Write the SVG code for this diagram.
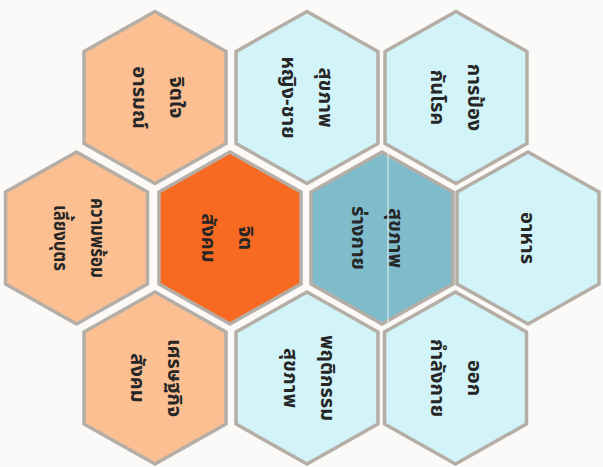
<svg xmlns="http://www.w3.org/2000/svg" width="603" height="467" viewBox="0 0 603 467">
<style>
.hex{stroke:#b4aea6;stroke-width:3.5;stroke-linejoin:miter}
.peach{fill:#fbbf92}
.orange{fill:#f86a22}
.sky{fill:#d2f3f7}
.teal{fill:#7fbccb}
.t{font-family:"Noto Sans Thai","Noto Sans Thai Looped","Noto Sans","DejaVu Sans",sans-serif;font-size:20px;font-weight:bold;fill:#262626;text-anchor:middle}
</style>
<defs>
<polygon id="h" points="0,-86 71,-46 71,46 0,86 -71,46 -71,-46"/>
</defs>
<rect width="603" height="467" fill="#fbfaf9"/>
<g id="n-jitjai" transform="translate(155,97.5)">
<use href="#h" class="hex peach"/>
<g transform="translate(3,0) rotate(90)"><text class="t" x="0" y="-12">จิตใจ</text><text class="t" x="0" y="25">อารมณ์</text></g>
</g>
<g id="n-sukhaphap-ying-chai" transform="translate(307,97.5)">
<use href="#h" class="hex sky"/>
<g transform="translate(0,0) rotate(90)"><text class="t" x="0" y="-12">สุขภาพ</text><text class="t" x="0" y="25">หญิง-ชาย</text></g>
</g>
<g id="n-kanpongkan" transform="translate(456,97.5)">
<use href="#h" class="hex sky"/>
<g transform="translate(0,0) rotate(90)"><text class="t" x="0" y="-12">การป้อง</text><text class="t" x="0" y="25">กันโรค</text></g>
</g>
<g id="n-khwamphrom" transform="translate(76.5,238)">
<use href="#h" class="hex peach"/>
<g transform="translate(2,0) rotate(90)"><text class="t" x="0" y="-12" textLength="80" lengthAdjust="spacingAndGlyphs">ความพร้อม</text><text class="t" x="0" y="25" textLength="66" lengthAdjust="spacingAndGlyphs">เลี้ยงบุตร</text></g>
</g>
<g id="n-jitsangkhom" transform="translate(230,238)">
<use href="#h" class="hex orange"/>
<g transform="translate(-3,0) rotate(90)"><text class="t" x="0" y="-12">จิต</text><text class="t" x="0" y="25">สังคม</text></g>
</g>
<g id="n-sukhaphap-rangkai" transform="translate(382,238)">
<use href="#h" class="hex teal"/>
<g transform="translate(-5,0) rotate(90)"><text class="t" x="0" y="-12">สุขภาพ</text><text class="t" x="0" y="25">ร่างกาย</text></g>
<line x1="6" y1="-86" x2="6" y2="88" stroke="#e6f4f7" stroke-width="1.2" opacity="0.8"/>
</g>
<g id="n-ahan" transform="translate(528,238)">
<use href="#h" class="hex sky"/>
<g transform="translate(0,0) rotate(90)"><text class="t" x="0" y="7">อาหาร</text></g>
</g>
<g id="n-setthakit" transform="translate(155,378)">
<use href="#h" class="hex peach"/>
<g transform="translate(1,0) rotate(90)"><text class="t" x="0" y="-12" textLength="78" lengthAdjust="spacingAndGlyphs">เศรษฐกิจ</text><text class="t" x="0" y="25">สังคม</text></g>
</g>
<g id="n-phruetikam" transform="translate(307,378)">
<use href="#h" class="hex sky"/>
<g transform="translate(2,0) rotate(90)"><text class="t" x="0" y="-12">พฤติกรรม</text><text class="t" x="0" y="25">สุขภาพ</text></g>
</g>
<g id="n-okkamlangkai" transform="translate(455.5,378)">
<use href="#h" class="hex sky"/>
<g transform="translate(0,0) rotate(90)"><text class="t" x="0" y="-12">ออก</text><text class="t" x="0" y="25">กำลังกาย</text></g>
</g>
<g id="connectors"></g>
</svg>
